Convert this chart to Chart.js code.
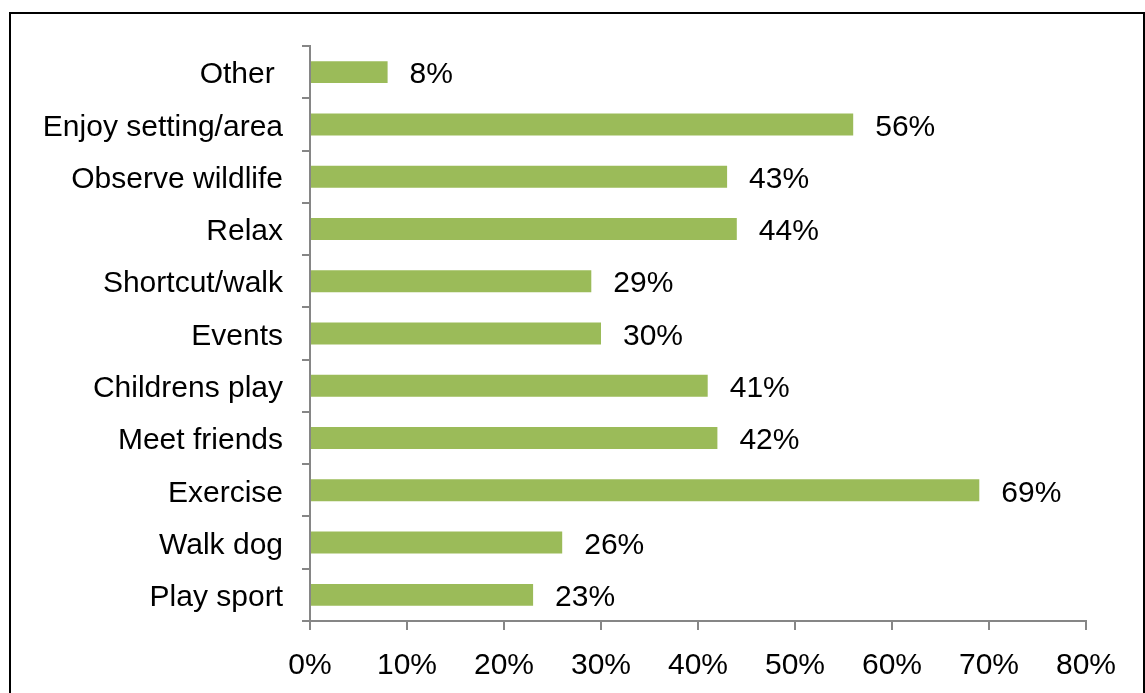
<!DOCTYPE html>
<html lang="en">
<head>
  <meta charset="UTF-8">
  <title>Reasons for visiting</title>
  <style>
    body { margin: 0; background: #fff; overflow: hidden; }
    .marco {
      position: absolute; left: 9px; top: 12px;
      width: 1132px; height: 720px;
      border: 2px solid #000; pointer-events: none;
    }
    #grafico { position: absolute; left: 0; top: 0; }
  </style>
</head>
<body>

  <canvas id="grafico" width="1145" height="693"></canvas>
  <div class="marco"></div>

  <script src="https://cdn.jsdelivr.net/npm/chart.js"></script>

  <script>
    // categorias de arriba hacia abajo
    const categorias = ["Other ", "Enjoy setting/area", "Observe wildlife", "Relax", "Shortcut/walk",
      "Events", "Childrens play", "Meet friends", "Exercise", "Walk dog", "Play sport"];
    const porcentajes = [8, 56, 43, 44, 29, 30, 41, 42, 69, 26, 23];
    const marcasX = [0, 10, 20, 30, 40, 50, 60, 70, 80];

    const fuente = { family: "'Liberation Sans', Arial, sans-serif", size: 30 };
    const gris = "#868686";

    // etiqueta de valor a la derecha de cada barra
    const etiquetasValor = {
      id: "etiquetasValor",
      afterDatasetsDraw(chart) {
        const ctx = chart.ctx;
        const meta = chart.getDatasetMeta(0);
        ctx.save();
        ctx.font = `${fuente.size}px ${fuente.family}`;
        ctx.fillStyle = "#000";
        ctx.textAlign = "left";
        ctx.textBaseline = "middle";
        meta.data.forEach((barra, i) => {
          ctx.fillText(porcentajes[i] + "%", barra.x + 22, barra.y + 3);
        });
        ctx.restore();
      }
    };

    const grafico = new Chart(document.querySelector("#grafico"), {
      type: "bar",
      data: {
        labels: categorias,
        datasets: [{
          data: porcentajes,
          backgroundColor: "#9BBB59",
          borderWidth: 0,
          categoryPercentage: 1,
          barPercentage: 0.42
        }]
      },
      options: {
        indexAxis: "y",
        responsive: false,
        animation: false,
        devicePixelRatio: 1,
        layout: { padding: { top: 46, right: 59, left: 0, bottom: 0 } },
        plugins: { legend: { display: false }, tooltip: { enabled: false } },
        scales: {
          x: {
            min: 0, max: 80,
            afterFit: s => { s.height = 72; },
            afterBuildTicks: s => { s.ticks = marcasX.map(v => ({ value: v })); },
            ticks: { color: "#000", font: fuente, padding: 18, callback: v => v + "%" },
            grid: { drawOnChartArea: false, tickLength: 9, color: gris, lineWidth: 2 },
            border: { color: gris, width: 2 }
          },
          y: {
            afterFit: s => { s.width = 310; },
            ticks: { color: "#000", font: fuente, padding: 19, labelOffset: 3 },
            grid: { drawOnChartArea: false, tickLength: 8, color: gris, lineWidth: 2, offset: true },
            border: { color: gris, width: 2 }
          }
        }
      },
      plugins: [etiquetasValor]
    });
  </script>
</body>
</html>
